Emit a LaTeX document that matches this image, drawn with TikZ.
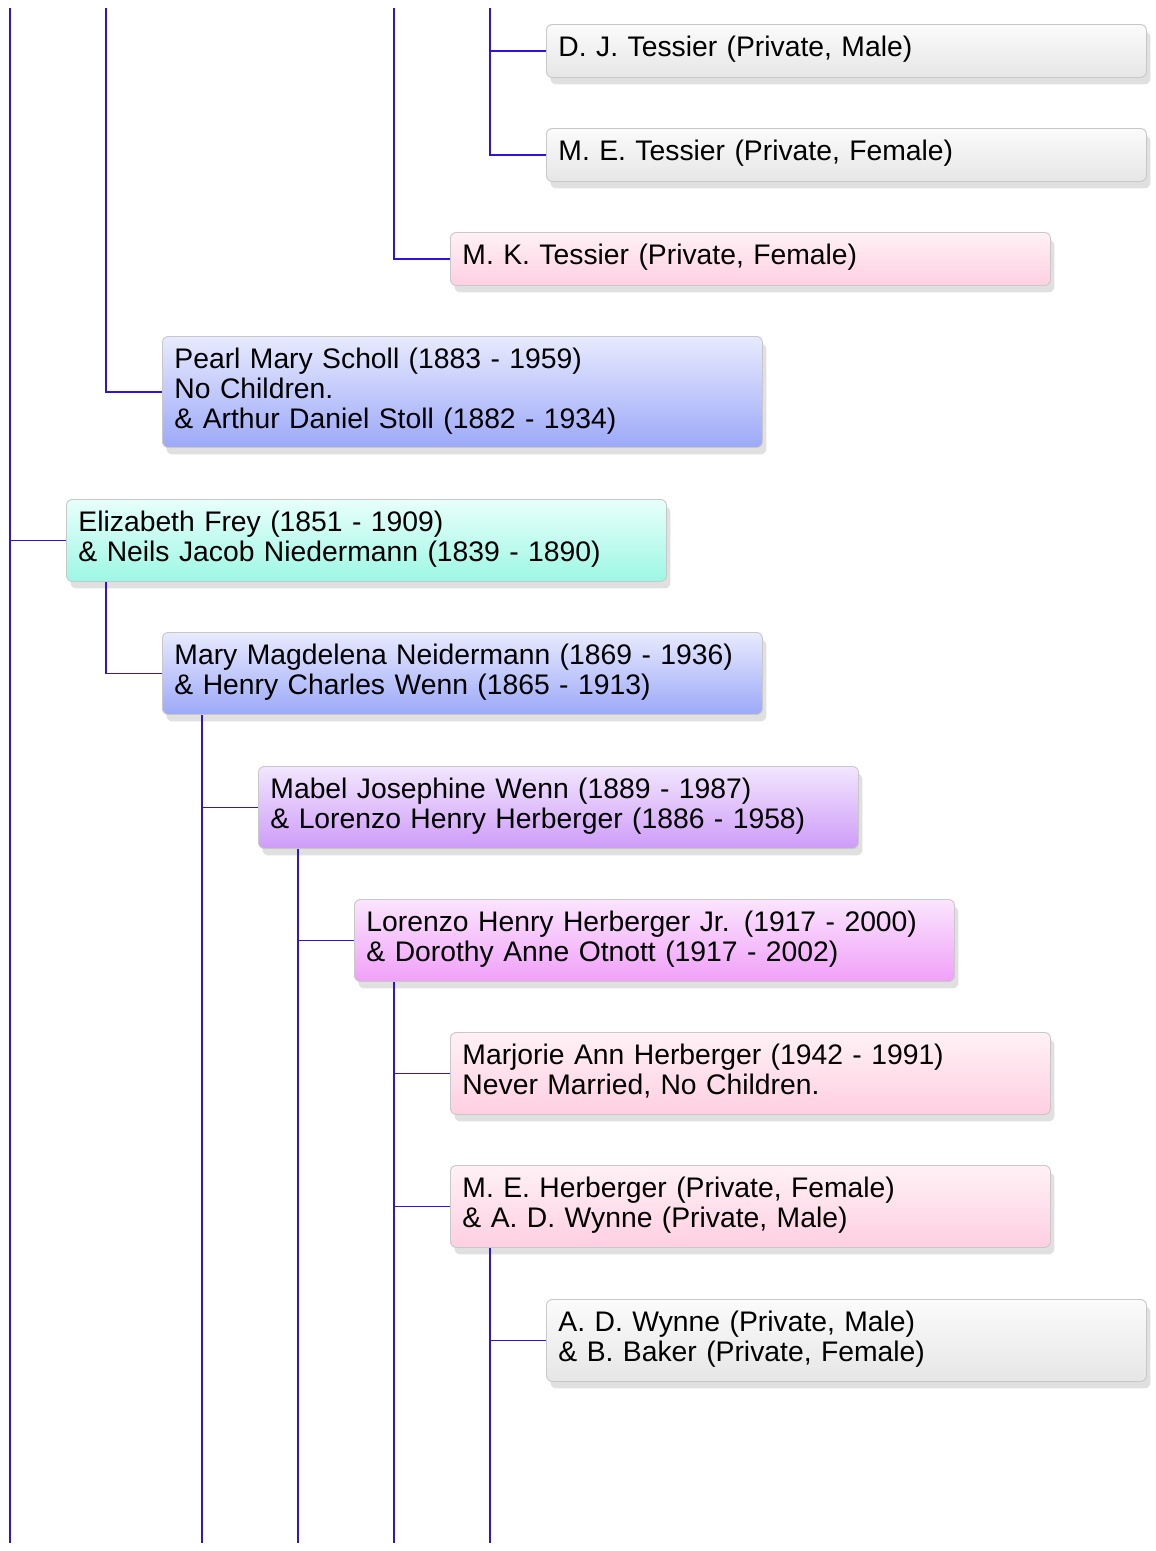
\documentclass[tikz,border=0pt]{standalone}
\usepackage{fontspec}
\setmainfont{Liberation Sans}
\usetikzlibrary{shadows,positioning}
\definecolor{linkblue}{HTML}{3311DD}
\definecolor{boxline}{HTML}{C8C8C8}
\definecolor{bluetop}{HTML}{E8EAFE}
\definecolor{bluebot}{HTML}{9CA9F8}
\definecolor{tealtop}{HTML}{E8FFFB}
\definecolor{tealbot}{HTML}{9DF7E4}
\definecolor{purptop}{HTML}{F2E6FE}
\definecolor{purpbot}{HTML}{CE9CF8}
\definecolor{magtop}{HTML}{FBE5FE}
\definecolor{magbot}{HTML}{F0A0F8}
\definecolor{pinktop}{HTML}{FFF1F6}
\definecolor{pinkbot}{HTML}{FFCFE1}
\definecolor{graytop}{HTML}{FBFBFB}
\definecolor{graybot}{HTML}{E6E6E6}
\begin{document}
\begin{tikzpicture}[x=1pt,y=-1pt,
  person/.style={rounded corners=6pt,draw=boxline,line width=0.9pt,anchor=north west,
    text width=576pt,inner xsep=12pt,inner ysep=0pt,text height=32.5pt,align=left,
    font=\fontsize{28.3}{30}\selectfont,
    drop shadow={shadow xshift=4pt,shadow yshift=-7pt,opacity=0.12,fill=black}},
  lines1/.style={text depth=20.5pt},
  lines2/.style={text depth=49.5pt},
  lines3/.style={text depth=78.5pt},
  bluebox/.style={top color=bluetop,bottom color=bluebot},
  tealbox/.style={top color=tealtop,bottom color=tealbot},
  purpbox/.style={top color=purptop,bottom color=purpbot},
  magbox/.style={top color=magtop,bottom color=magbot},
  pinkbox/.style={top color=pinktop,bottom color=pinkbot},
  graybox/.style={top color=graytop,bottom color=graybot},
  link/.style={linkblue,line width=1.5pt}]
\useasboundingbox (0,0) rectangle (1156,1551);
% people
\node[person,lines1,graybox] (dj) at (546,24) {D. J. Tessier (Private, Male)};
\node[person,lines1,graybox] (met) at (546,128) {M. E. Tessier (Private, Female)};
\node[person,lines1,pinkbox] (mkt) at (450,232) {M. K. Tessier (Private, Female)};
\node[person,lines3,bluebox] (pearl) at (162,336) {Pearl Mary Scholl (1883 - 1959)\\No Children.\\\& Arthur Daniel Stoll (1882 - 1934)};
\node[person,lines2,tealbox] (eliz) at (66,499) {Elizabeth Frey (1851 - 1909)\\\& Neils Jacob Niedermann (1839 - 1890)};
\node[person,lines2,bluebox] (mary) at (162,632) {Mary Magdelena Neidermann (1869 - 1936)\\\& Henry Charles Wenn (1865 - 1913)};
\node[person,lines2,purpbox] (mabel) at (258,766) {Mabel Josephine Wenn (1889 - 1987)\\\& Lorenzo Henry Herberger (1886 - 1958)};
\node[person,lines2,magbox] (lorjr) at (354,899) {Lorenzo Henry Herberger Jr. (1917 - 2000)\\\& Dorothy Anne Otnott (1917 - 2002)};
\node[person,lines2,pinkbox] (marj) at (450,1032) {Marjorie Ann Herberger (1942 - 1991)\\Never Married, No Children.};
\node[person,lines2,pinkbox] (meh) at (450,1165) {M. E. Herberger (Private, Female)\\\& A. D. Wynne (Private, Male)};
\node[person,lines2,graybox] (adw) at (546,1299) {A. D. Wynne (Private, Male)\\\& B. Baker (Private, Female)};
% free ends of the lines
\coordinate (topa) at (10,8);
\coordinate (topb) at (106,8);
\coordinate (topd) at (394,8);
\coordinate (tope) at (490,8);
\coordinate (bota) at (10,1543);
\coordinate (botc) at (202,1543);
\coordinate (botd) at (298,1543);
\coordinate (bote) at (394,1543);
\coordinate (botf) at (490,1543);
% connectors
\draw[link] (topa) -- (bota);
\draw[link] (topa |- eliz.west) -- (eliz.west);
\draw[link] (topb) |- (pearl.west);
\draw[link] (topd) |- (mkt.west);
\draw[link] (tope) |- (met.west);
\draw[link] (tope |- dj.west) -- (dj.west);
\draw[link] ([xshift=40pt]eliz.south west) |- (mary.west);
\draw[link] ([xshift=40pt]mary.south west) -- (botc);
\draw[link] (botc |- mabel.west) -- (mabel.west);
\draw[link] ([xshift=40pt]mabel.south west) -- (botd);
\draw[link] (botd |- lorjr.west) -- (lorjr.west);
\draw[link] ([xshift=40pt]lorjr.south west) -- (bote);
\draw[link] (bote |- marj.west) -- (marj.west);
\draw[link] (bote |- meh.west) -- (meh.west);
\draw[link] ([xshift=40pt]meh.south west) -- (botf);
\draw[link] (botf |- adw.west) -- (adw.west);
\end{tikzpicture}
\end{document}
